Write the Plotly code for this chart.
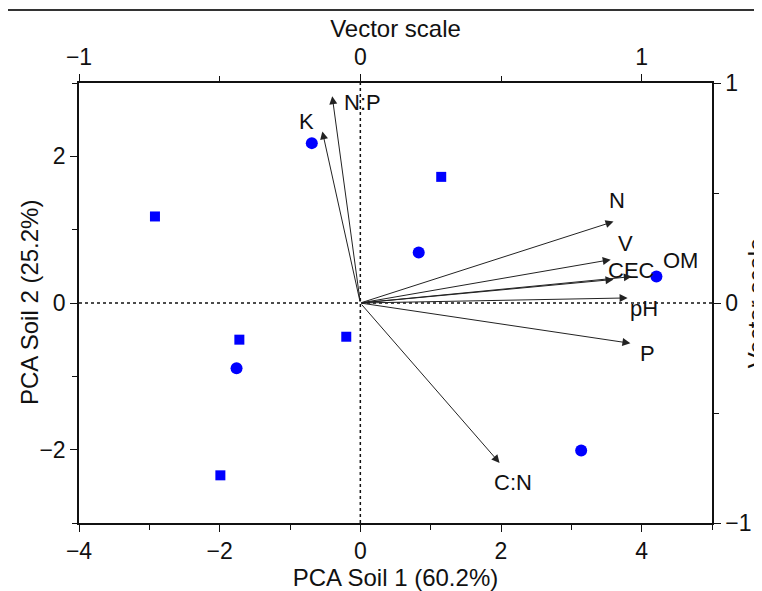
import plotly.graph_objects as go

# Sample scores (PCA Soil 1, PCA Soil 2)
sq_x = [-2.92, 1.15, -1.72, -0.20, -1.99]
sq_y = [1.18, 1.72, -0.50, -0.46, -2.35]
ci_x = [-0.69, 0.83, -1.76, 4.21, 3.14]
ci_y = [2.18, 0.69, -0.89, 0.36, -2.01]

# Variable loadings (vector scale)
var_names = ["N:P", "K", "N", "V", "CEC", "OM", "pH", "P", "C:N"]
load_x = [-0.10, -0.135, 0.90, 0.89, 0.90, 0.965, 0.95, 0.96, 0.495]
load_y = [0.94, 0.78, 0.37, 0.197, 0.107, 0.12, 0.023, -0.183, -0.727]

# label offsets in pixels (x, y)
lab_dx = [30, -16, 3, 15, 18, 49, 16, 17, 13]
lab_dy = [-6, 10, 21, 16, 9, 16, -11, -10, -20]

FONT = "Liberation Sans, Arial, sans-serif"

fig = go.Figure()
fig.add_trace(go.Scatter(x=sq_x, y=sq_y, mode="markers",
                         marker=dict(symbol="square", size=10, color="#0000ff"),
                         showlegend=False, cliponaxis=False))
fig.add_trace(go.Scatter(x=ci_x, y=ci_y, mode="markers",
                         marker=dict(symbol="circle", size=12, color="#0000ff"),
                         showlegend=False, cliponaxis=False))
# invisible trace to activate secondary axes
fig.add_trace(go.Scatter(x=[0], y=[0], xaxis="x2", yaxis="y2", mode="markers",
                         marker=dict(size=1, opacity=0), showlegend=False, hoverinfo="skip"))

anns = []
for name, lx, ly, dx, dy in zip(var_names, load_x, load_y, lab_dx, lab_dy):
    anns.append(dict(x=lx, y=ly, xref="x2", yref="y2", ax=0, ay=0, axref="x2", ayref="y2",
                     text="", showarrow=True, arrowhead=2, arrowsize=1.6, arrowwidth=1,
                     arrowcolor="#222222", standoff=0, startstandoff=0))
    anns.append(dict(x=lx, y=ly, xref="x2", yref="y2", text=name, showarrow=False,
                     xshift=dx, yshift=dy, font=dict(family=FONT, size=22, color="#111111")))

tickfont = dict(family=FONT, size=23, color="#111111")
titlefont = dict(family=FONT, size=24, color="#111111")

# left axis title as annotation for exact placement
anns.append(dict(x=0, y=0.5, xref="paper", yref="paper", text="PCA Soil 2 (25.2%)",
                 showarrow=False, textangle=-90, xanchor="center", yanchor="middle",
                 xshift=-50, font=titlefont))

shapes = [
    dict(type="line", xref="x", yref="paper", x0=0, x1=0, y0=0, y1=1,
         line=dict(color="#111111", width=1.5, dash="dot"), layer="below"),
    dict(type="line", xref="paper", yref="y", x0=0, x1=1, y0=0, y1=0,
         line=dict(color="#111111", width=1.5, dash="dot"), layer="below"),
    dict(type="line", xref="paper", yref="paper", x0=-0.2, x1=1.2, y0=1.166, y1=1.166,
         line=dict(color="#333333", width=2)),
]

axis_common = dict(showline=True, linecolor="#111111", linewidth=1.5, ticks="outside",
                   ticklen=7, tickwidth=1.3, tickcolor="#111111", showgrid=False,
                   zeroline=False, tickfont=tickfont, automargin=False)
minor_common = dict(ticks="outside", ticklen=5, tickcolor="#111111", tickwidth=1.2)

fig.update_layout(
    width=762, height=591,
    margin=dict(l=71, r=58, t=75, b=76, autoexpand=False),
    paper_bgcolor="white", plot_bgcolor="white",
    xaxis=dict(range=[-4, 5], tickvals=[-4, -2, 0, 2, 4], ticktext=["\u22124", "\u22122", "0", "2", "4"],
               minor=dict(dtick=1, **minor_common),
               title=dict(text="PCA Soil 1 (60.2%)", font=titlefont, standoff=4), **axis_common),
    yaxis=dict(range=[-3, 3], tickvals=[-2, 0, 2], ticktext=["\u22122", "0", "2"],
               minor=dict(dtick=1, **minor_common), **axis_common),
    xaxis2=dict(overlaying="x", side="top", range=[-1, 1.25], tickvals=[-1, 0, 1],
                ticktext=["\u22121", "0", "1"],
                minor=dict(dtick=0.5, **minor_common),
                title=dict(text="Vector scale", font=titlefont, standoff=0), **axis_common),
    yaxis2=dict(overlaying="y", side="right", range=[-1, 1], tickvals=[-1, 0, 1],
                ticktext=["\u22121", "0", "1"],
                minor=dict(dtick=0.5, **minor_common),
                title=dict(text="Vector scale", font=titlefont, standoff=8), **axis_common),
    annotations=anns,
    shapes=shapes,
)

fig.write_html("out.html")
